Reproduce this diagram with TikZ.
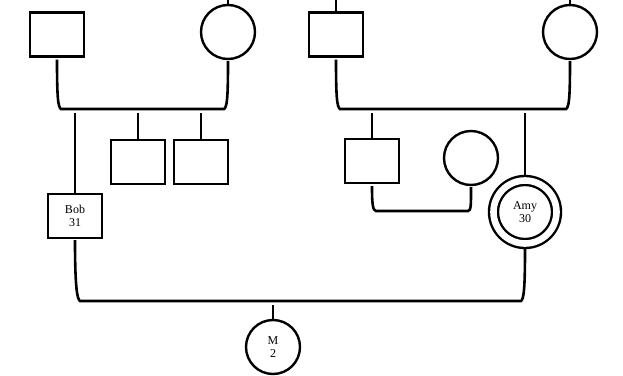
\documentclass[tikz,border=0pt]{standalone}
\usepackage{fontspec}
\setmainfont{Liberation Serif}
\begin{document}
\begin{tikzpicture}[x=1pt,y=-1pt,
  ln/.style={line width=2.6pt},
  male/.style={draw,line width=2.4pt,rectangle,minimum width=54pt,minimum height=44pt,inner sep=0pt,align=center,font=\fontsize{12}{13.5}\selectfont},
  female/.style={draw,line width=2.4pt,circle,minimum size=54pt,inner sep=0pt,align=center,font=\fontsize{12}{13.5}\selectfont},
  proband/.style={female,minimum size=63pt,double,double distance=6.6pt}
]
\useasboundingbox (0,0) rectangle (623,375);
% nodes
\node[male] (gf1) at (57,34.5) {};
\node[female] (gm1) at (228,32) {};
\node[male] (gf2) at (336,34.5) {};
\node[female] (gm2) at (570,32) {};
\node[male] (s1) at (138,162) {};
\node[male] (s2) at (201,162) {};
\node[male] (bob) at (75,216) {Bob\\31};
\node[male] (u1) at (372,161) {};
\node[female] (w1) at (471,158) {};
\node[proband] (amy) at (525,212) {Amy\\30};
\node[female] (m) at (273,347) {M\\2};
% coordinates
\coordinate (t1) at (228,0);
\coordinate (t2) at (336,0);
\coordinate (t3) at (570,0);
\coordinate (b1a) at (61,109); \coordinate (b1b) at (224,109);
\coordinate (b2a) at (340,109); \coordinate (b2b) at (566,109);
\coordinate (c1) at (75,113); \coordinate (c2) at (138,113); \coordinate (c3) at (201,113);
\coordinate (c4) at (372,113); \coordinate (c5) at (525,113);
\coordinate (ua) at (376,211); \coordinate (ub) at (468,211);
\coordinate (ba) at (80,301); \coordinate (bb) at (521,301);
\coordinate (mc) at (273,305);
% connectors to top
\draw[ln] (gm1.north) -- (t1);
\draw[ln] (gf2.north) -- (t2);
\draw[ln] (gm2.north) -- (t3);
% marriage lines
\draw[ln] ([yshift=-2pt]gf1.south) .. controls +(0,38) and +(-3,-2) .. (b1a) -- (b1b) .. controls +(3,-2) and +(0,38) .. ([yshift=-1pt]gm1.south);
\draw[ln] ([yshift=-2pt]gf2.south) .. controls +(0,38) and +(-3,-2) .. (b2a) -- (b2b) .. controls +(3,-2) and +(0,38) .. ([yshift=-1pt]gm2.south);
\draw[ln] ([yshift=-2pt]u1.south) .. controls +(0,20) and +(-3,-1) .. (ua) -- (ub) .. controls +(3,-1) and +(0,20) .. ([yshift=-1pt]w1.south);
\draw[ln] ([yshift=-1pt]bob.south) .. controls +(0,46) and +(-3,-2) .. (ba) -- (bb) .. controls +(3,-2) and +(0,38) .. ([yshift=-4pt]amy.south);
% descent lines
\draw[ln] (c1) -- (bob.north);
\draw[ln] (c2) -- (s1.north);
\draw[ln] (c3) -- (s2.north);
\draw[ln] (c4) -- (u1.north);
\draw[ln] (c5) -- ([yshift=4pt]amy.north);
\draw[ln] (mc) -- (m.north);
\end{tikzpicture}
\end{document}
